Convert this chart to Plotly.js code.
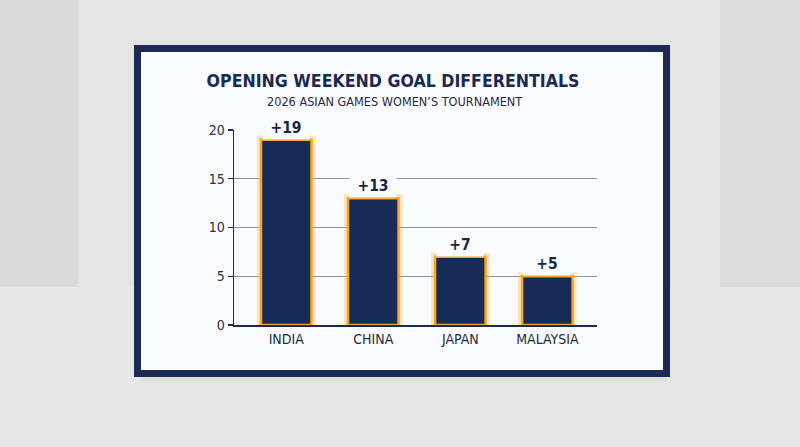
<!DOCTYPE html>
<html>
<head>
<meta charset="utf-8">
<script src="https://cdn.plot.ly/plotly-3.0.1.min.js"></script>
<style>
  html, body { margin: 0; padding: 0; background: #e3e3e3; }
  #chart { width: 800px; height: 447px; }
</style>
</head>
<body>
<div id="chart"></div>
<script>
// ---- data ----
var categories = ["INDIA", "CHINA", "JAPAN", "MALAYSIA"];
var goalDiff = [19, 13, 7, 5];
var valueLabels = ["+19", "+13", "+7", "+5"];
var yTickVals = [0, 5, 10, 15, 20];
var yTickText = ["0", "5", "10", "15", "20"];
var titleText = "OPENING WEEKEND GOAL DIFFERENTIALS";
var subtitleText = "2026 ASIAN GAMES WOMEN\u2019S TOURNAMENT";

// ---- layout helpers (pixel -> paper) ----
var W = 800, H = 447;
var L = 234, R = 597, T = 130, B = 325;
function px(x) { return (x - L) / (R - L); }
function py(y) { return (B - y) / (B - T); }

var FONT = "'DejaVu Sans Condensed', 'Liberation Sans Narrow', 'Arial Narrow', sans-serif";
var NAVY = "#1b2a52";
var BAR = "#182a56";
var ORANGE = "#f5a524";

var glow = {
  type: "bar", x: categories, y: goalDiff, width: 0.58,
  marker: { color: "rgba(0,0,0,0)", line: { color: "rgba(255,176,50,0.32)", width: 8 } },
  hoverinfo: "skip", showlegend: false
};
var bars = {
  type: "bar", x: categories, y: goalDiff, width: 0.58,
  marker: { color: BAR, line: { color: ORANGE, width: 2.5 } },
  showlegend: false
};

var annotations = categories.map(function (c, i) {
  return {
    x: c, y: goalDiff[i], xref: "x", yref: "y",
    text: valueLabels[i], showarrow: false,
    xanchor: "center", yanchor: "bottom", yshift: 0,
    width: 46, height: 22, bgcolor: "#fafbfc", borderpad: 0,
    font: { family: FONT, size: 15.5, color: "#1a2542", weight: "bold" }
  };
});
annotations.push({
  x: px(394), y: py(101), xref: "paper", yref: "paper",
  text: subtitleText, showarrow: false, xanchor: "center", yanchor: "middle",
  font: { family: FONT, size: 12.6, color: "#1e2a48" }
});

function rectPx(x0, y0, x1, y1, fill, line, lw, layer) {
  return {
    type: "rect", xref: "paper", yref: "paper",
    x0: px(x0), x1: px(x1), y0: py(y0), y1: py(y1),
    fillcolor: fill, line: { color: line || "rgba(0,0,0,0)", width: lw || 0 },
    layer: layer || "below"
  };
}

var shapes = [
  rectPx(0, 0, 78, 287, "#dadada"),
  rectPx(720, 0, 800, 287, "#dbdbdb"),
  rectPx(0, 287, 800, 447, "#e7e7e7"),
  rectPx(140, 377, 667, 381, "rgba(150,150,160,0.12)"),
  rectPx(137.5, 48.5, 666.5, 373.5, "#fafbfc", NAVY, 7)
];

var layout = {
  width: W, height: H,
  margin: { l: L, r: W - R, t: T, b: H - B, pad: 0 },
  paper_bgcolor: "#e4e4e4",
  plot_bgcolor: "rgba(0,0,0,0)",
  barmode: "overlay",
  title: {
    text: titleText,
    xref: "paper", x: px(393), xanchor: "center",
    yref: "container", y: 1 - 81 / H, yanchor: "middle",
    font: { family: FONT, size: 17.6, color: NAVY, weight: "bold" }
  },
  xaxis: {
    range: [-0.6, 3.57],
    showline: true, linecolor: NAVY, linewidth: 1.8,
    showgrid: false, ticks: "", fixedrange: true,
    tickfont: { family: FONT, size: 14, color: "#232c40" }
  },
  yaxis: {
    range: [0, 20],
    tickvals: yTickVals, ticktext: yTickText,
    showline: true, linecolor: NAVY, linewidth: 1.5,
    ticks: "outside", ticklen: 5, tickcolor: NAVY, tickwidth: 1.2,
    showgrid: true, gridcolor: "#8d939e", gridwidth: 1.2,
    zeroline: false, fixedrange: true,
    tickfont: { family: FONT, size: 14, color: "#2a3142" }
  },
  shapes: shapes,
  annotations: annotations
};

Plotly.newPlot("chart", [glow, bars], layout, { displayModeBar: false, staticPlot: true });
</script>
</body>
</html>
